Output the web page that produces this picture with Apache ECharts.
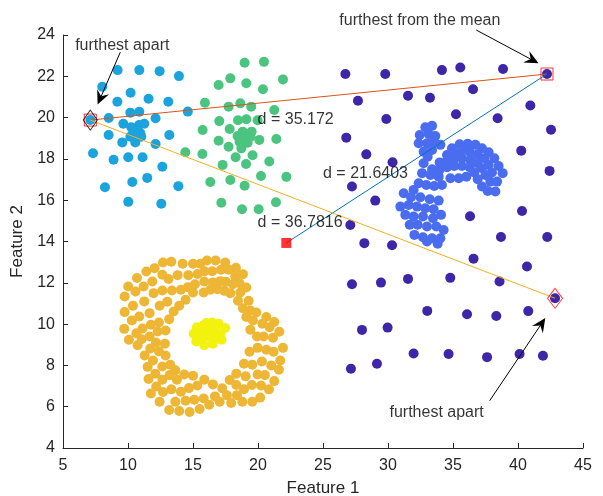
<!DOCTYPE html>
<html>
<head>
<meta charset="utf-8">
<script src="https://cdn.jsdelivr.net/npm/echarts@6/dist/echarts.min.js"></script>
<style>
  html, body { margin: 0; padding: 0; background: #fff; }
  #main { width: 603px; height: 496px; }
</style>
</head>
<body>
<div id="main"></div>
<script>
// clusters, [feature1, feature2]
var lightBlue = [
  [9.20,22.30],[10.87,22.30],[12.43,22.25],[13.92,22.01],[8.02,21.49],[10.20,21.20],
  [9.18,20.77],[11.58,20.91],[13.10,20.77],[7.10,19.88],[8.52,19.98],[10.18,20.24],
  [10.87,20.28],[12.12,19.97],[14.60,20.29],[9.64,19.70],[10.25,19.53],[10.58,19.45],
  [10.85,19.64],[11.25,19.70],[10.41,19.32],[10.95,19.24],[10.18,19.07],[10.66,19.05],
  [11.02,19.07],[10.56,18.80],[8.51,19.16],[9.56,18.80],[12.12,18.72],[13.18,19.16],
  [7.31,18.27],[8.89,17.96],[10.02,18.08],[11.12,18.08],[12.64,17.62],[10.33,16.88],
  [11.48,17.08],[8.23,16.63],[13.87,16.68],[10.02,15.92],[12.56,15.83]
];
var green = [
  [18.97,22.66],[20.46,22.70],[17.87,21.90],[16.97,21.58],[19.10,21.66],[20.38,21.37],
  [21.92,21.85],[15.92,20.72],[17.74,20.53],[18.64,20.69],[19.48,20.53],[21.25,20.37],
  [17.02,19.83],[18.46,19.87],[19.10,19.92],[19.97,19.87],[15.74,19.40],[17.82,19.45],
  [18.82,19.32],[19.51,19.32],[18.43,19.11],[18.89,19.00],[18.58,18.83],[19.20,18.78],
  [16.97,18.88],[20.10,18.92],[21.41,18.96],[17.74,18.59],[18.72,18.51],[15.72,18.24],
  [18.28,18.08],[19.58,18.18],[17.28,17.71],[19.08,17.75],[20.87,17.87],[16.33,16.88],
  [17.87,16.98],[18.97,16.70],[20.23,17.17],[22.18,17.13],[17.18,15.88],[18.77,15.56],
  [20.05,15.56],[21.38,15.90],[14.41,18.32],[19.02,19.21],[19.41,19.07]
];
var purple = [
  [26.72,22.11],[29.79,22.11],[34.15,22.30],[35.56,22.43],[38.85,22.35],[42.23,22.11],
  [27.69,20.82],[31.54,21.06],[33.23,20.96],[36.54,21.37],[40.95,20.59],[29.87,19.93],
  [35.23,20.16],[38.43,19.97],[42.54,19.41],[26.79,19.03],[28.33,18.22],[30.35,17.84],
  [40.25,18.40],[42.43,17.42],[27.23,16.66],[29.02,15.98],[36.31,15.22],[40.31,15.48],
  [27.10,14.80],[28.18,13.92],[30.31,13.82],[38.69,14.22],[42.25,14.22],[36.58,13.17],
  [40.69,12.79],[27.23,11.93],[29.46,12.01],[31.54,12.19],[34.79,12.24],[38.58,12.06],
  [42.85,11.25],[33.02,10.64],[36.08,10.48],[38.33,10.39],[40.79,10.63],[28.00,9.72],
  [29.97,9.83],[31.97,8.58],[34.66,8.55],[37.62,8.40],[40.12,8.55],[41.92,8.47],
  [27.15,7.84],[29.15,8.08]
];
var crescent = [
  [32.87,19.53],[33.39,19.60],[32.44,19.16],[33.13,19.21],[33.64,19.11],[32.36,18.76],
  [33.00,18.76],[33.51,18.84],[34.03,18.68],[32.74,18.35],[33.39,18.43],
  [34.92,18.52],[35.51,18.71],[36.13,18.73],[36.72,18.68],[37.23,18.52],[37.74,18.32],
  [38.18,18.03],[38.51,17.66],[38.82,17.31],[38.39,16.90],[38.26,16.42],[37.67,16.45],
  [34.54,18.19],[35.10,18.31],[35.69,18.39],[36.28,18.35],[36.90,18.22],[37.41,18.03],
  [37.74,17.71],[38.00,17.34],[37.87,16.90],
  [33.97,17.82],[34.54,17.92],[35.10,18.00],[35.69,18.03],[36.33,17.95],[36.90,17.79],
  [37.23,17.55],[37.49,17.22],[37.23,16.66],
  [33.39,17.50],[33.97,17.47],[34.54,17.60],[35.10,17.66],[35.69,17.66],[36.28,17.60],
  [36.64,17.34],[36.90,17.02],[34.80,17.06],[35.44,17.06],[36.03,17.14],
  [32.74,17.79],[33.05,18.11],[32.62,17.31],[33.26,17.22],[33.90,17.14],[32.36,16.82],
  [32.95,16.74],[33.56,16.69],[34.15,16.74],[31.97,16.50],[31.21,16.34],[31.77,16.14],
  [32.49,16.14],[33.21,16.05],[33.90,15.98],[30.95,15.69],[31.59,15.77],[32.23,15.69],
  [32.87,15.61],[33.51,15.56],[31.33,15.29],[31.97,15.21],[32.69,15.21],[33.46,15.13],
  [34.08,15.29],[31.67,14.81],[32.28,14.81],[33.00,14.73],[33.72,14.73],[34.28,14.56],
  [32.03,14.32],[32.69,14.21],[33.39,14.16],[34.03,14.16],[33.82,13.89],[33.00,14.00]
];
var ring = [
  [12.69,12.98],[13.33,13.02],[14.20,12.92],[15.00,12.92],[15.56,12.92],[16.07,13.08],
  [16.74,13.08],[17.48,12.98],[18.30,12.73],[18.84,12.42],
  [11.41,12.55],[12.05,12.71],[12.64,12.39],[13.12,12.18],[13.82,12.37],[14.64,12.37],
  [15.35,12.43],[15.89,12.56],[16.48,12.56],[17.15,12.63],[17.74,12.63],[18.25,12.31],
  [18.58,11.98],[19.10,11.77],
  [10.69,12.23],[11.87,12.06],[11.20,11.82],[10.02,11.82],[10.58,11.58],[11.97,11.50],
  [12.64,11.63],[13.38,11.63],[14.07,11.66],[14.61,11.79],[15.15,11.93],[15.87,12.06],
  [16.53,12.02],[17.10,12.08],[17.53,12.05],[18.07,11.93],[18.64,11.53],[18.46,11.13],
  [19.28,11.13],
  [9.74,11.34],[10.38,10.89],[11.25,11.10],[12.43,10.89],[13.02,11.08],[13.94,10.89],
  [14.43,11.18],[15.00,11.53],[15.82,11.53],[16.33,11.66],[16.89,11.69],[17.41,11.61],
  [17.87,11.50],[18.84,10.77],[19.41,10.66],[19.87,10.56],
  [9.74,10.58],[10.87,10.37],[11.66,10.53],[13.51,10.61],[13.17,10.24],[19.10,10.34],
  [19.61,10.18],[20.33,10.02],[20.64,10.34],[21.25,10.10],
  [10.30,10.18],[9.71,9.77],[10.64,9.56],[11.12,9.79],[11.76,9.97],[12.38,10.08],
  [12.89,9.69],[12.28,9.64],[11.66,9.40],[11.05,9.27],[10.07,9.24],[10.74,8.98],
  [12.15,9.11],[12.84,9.05],[19.41,9.73],[19.92,9.40],[20.43,9.40],[20.89,9.85],
  [21.64,9.63],[21.15,9.34],
  [11.28,8.48],[11.71,8.82],[12.38,8.68],[12.89,8.48],[19.35,8.66],[19.97,8.85],
  [20.64,8.76],[21.20,8.66],[21.92,8.85],
  [11.92,8.24],[11.51,7.93],[12.64,7.95],[13.25,8.03],[13.64,7.76],[18.92,8.08],
  [19.56,8.03],[20.30,8.19],[21.02,8.00],[21.71,8.24],[21.61,7.79],
  [11.58,7.34],[12.10,7.60],[12.64,7.31],[13.20,7.53],[13.76,7.31],[14.33,7.56],
  [15.00,7.50],[18.33,7.60],[19.05,7.47],[19.97,7.56],[20.53,7.53],[21.25,7.24],
  [12.17,6.98],[11.76,6.64],[12.69,6.71],[13.33,6.84],[14.07,6.73],[14.69,6.90],
  [15.33,7.03],[15.87,7.31],[16.53,7.08],[17.25,6.89],[17.82,7.29],[18.33,7.05],
  [18.92,6.85],[19.53,7.05],[20.23,7.03],[20.84,6.84],
  [12.43,6.24],[13.64,6.24],[14.43,6.29],[15.10,6.34],[15.82,6.40],[16.25,6.10],
  [16.69,6.50],[17.05,6.24],[17.61,6.55],[17.94,6.18],[18.38,6.56],[18.79,6.24],
  [19.56,6.24],[20.17,6.44],
  [13.17,5.84],[13.94,5.79],[14.74,5.74],[15.51,5.89]
];
var core = [
  [15.30,9.85],[15.82,9.95],[16.46,10.08],[16.97,10.02],[17.48,9.81],[15.05,9.53],
  [15.56,9.60],[16.07,9.69],[16.58,9.76],[17.10,9.56],[15.25,9.16],[15.87,8.98],
  [16.53,9.05],[17.20,9.24],[16.20,9.40],[15.69,9.32],[16.79,9.40],[16.33,9.85],
  [16.02,10.05],[16.71,9.53]
];

var meanPoint = [22.18, 13.93];
var apartA = [7.10, 19.88];
var apartB = [42.85, 11.25];
var fromMean = [42.23, 22.11];

var noteText = ['d = 35.172', 'd = 21.6403', 'd = 36.7816'];
var noteX = [19.97, 25.0, 19.97];
var noteY = [19.88, 17.27, 14.90];

var calloutText = ['furthest apart', 'furthest from the mean', 'furthest apart'];
var calloutX = [9.56, 32.45, 33.74];
var calloutY = [23.51, 24.72, 5.72];
// arrows: [fromX, fromY, toX, toY]
var arrows = [
  [9.41, 23.17, 7.66, 20.63],
  [36.79, 24.24, 41.58, 22.63],
  [37.82, 6.29, 42.10, 10.29]
];

var font = '"Liberation Sans", Arial, sans-serif';
var ink = '#262626';

function dots(data, color) {
  return {
    type: 'scatter', data: data, symbolSize: 10, z: 2,
    itemStyle: { color: color, opacity: 1 }
  };
}
function segment(a, b, color) {
  return {
    type: 'line', data: [a, b], symbol: 'none', z: 3,
    lineStyle: { color: color, width: 1 }
  };
}
function renderArrow(params, api) {
  var p1 = api.coord([api.value(0), api.value(1)]);
  var p2 = api.coord([api.value(2), api.value(3)]);
  var dx = p2[0] - p1[0], dy = p2[1] - p1[1];
  var len = Math.sqrt(dx * dx + dy * dy);
  var ux = dx / len, uy = dy / len, nx = -uy, ny = ux;
  var L = 14, W = 6.5, N = 9;
  var bx = p2[0] - ux * L, by = p2[1] - uy * L;
  var notch = [p2[0] - ux * N, p2[1] - uy * N];
  return {
    type: 'group',
    children: [
      { type: 'line', shape: { x1: p1[0], y1: p1[1], x2: notch[0], y2: notch[1] },
        style: { stroke: '#000', lineWidth: 1 } },
      { type: 'polygon',
        shape: { points: [p2, [bx + nx * W, by + ny * W], notch, [bx - nx * W, by - ny * W]] },
        style: { fill: '#000' } }
    ]
  };
}

var chart = echarts.init(document.getElementById('main'));
chart.setOption({
  animation: false,
  textStyle: { fontFamily: font },
  grid: { left: 63, right: 20, top: 35, bottom: 48, outerBoundsMode: 'none' },
  xAxis: {
    type: 'value', min: 5, max: 45, interval: 5,
    name: 'Feature 1', nameLocation: 'middle', nameGap: 32,
    nameTextStyle: { color: ink, fontSize: 17, fontFamily: font },
    axisLine: { lineStyle: { color: ink, width: 1 } },
    axisTick: { inside: true, length: 5, lineStyle: { color: ink } },
    axisLabel: { color: ink, fontSize: 16, margin: 10, fontFamily: font },
    splitLine: { show: false }
  },
  yAxis: {
    type: 'value', min: 4, max: 24, interval: 2,
    name: 'Feature 2', nameLocation: 'middle', nameGap: 36,
    nameTextStyle: { color: ink, fontSize: 17, fontFamily: font },
    axisLine: { show: true, lineStyle: { color: ink, width: 1 } },
    axisTick: { show: true, inside: true, length: 5, lineStyle: { color: ink } },
    axisLabel: { color: ink, fontSize: 16, margin: 8, fontFamily: font },
    splitLine: { show: false }
  },
  series: [
    dots(lightBlue, '#1BA3DE'),
    dots(green, '#4BC47F'),
    dots(purple, '#3E26A8'),
    dots(crescent, '#4A6DF0'),
    dots(ring, '#EDB635'),
    dots(core, '#F3F20F'),
    segment(apartA, fromMean, '#D95319'),
    segment(meanPoint, fromMean, '#0072BD'),
    segment(apartA, apartB, '#EDB120'),
    {
      type: 'scatter', z: 4, symbol: 'rect', symbolSize: 10,
      itemStyle: { color: '#FF0000' }, data: [meanPoint]
    },
    {
      type: 'scatter', z: 4, symbol: 'rect', symbolSize: 12,
      itemStyle: { color: 'none', borderColor: '#FF0000', borderWidth: 1 },
      data: [fromMean, apartA]
    },
    {
      type: 'scatter', z: 4, symbol: 'diamond', symbolSize: [14, 20],
      itemStyle: { color: 'none', borderColor: '#000000', borderWidth: 1 },
      data: [apartA]
    },
    {
      type: 'scatter', z: 4, symbol: 'diamond', symbolSize: [15, 20],
      itemStyle: { color: 'none', borderColor: '#FF0000', borderWidth: 1 },
      data: [apartB]
    },
    {
      type: 'scatter', z: 5, symbolSize: 0, clip: false, silent: true,
      data: noteText.map(function (t, i) { return { name: t, value: [noteX[i], noteY[i]] }; }),
      label: {
        show: true, position: 'right', distance: 0, formatter: '{b}',
        color: '#000', fontSize: 16, fontFamily: font
      }
    },
    {
      type: 'scatter', z: 5, symbolSize: 0, clip: false, silent: true,
      data: calloutText.map(function (t, i) { return { name: t, value: [calloutX[i], calloutY[i]] }; }),
      label: {
        show: true, position: 'inside', formatter: '{b}',
        color: '#000', fontSize: 16, fontFamily: font
      }
    },
    {
      type: 'custom', z: 5, clip: false, silent: true,
      renderItem: renderArrow,
      data: arrows
    }
  ]
});
</script>
</body>
</html>
